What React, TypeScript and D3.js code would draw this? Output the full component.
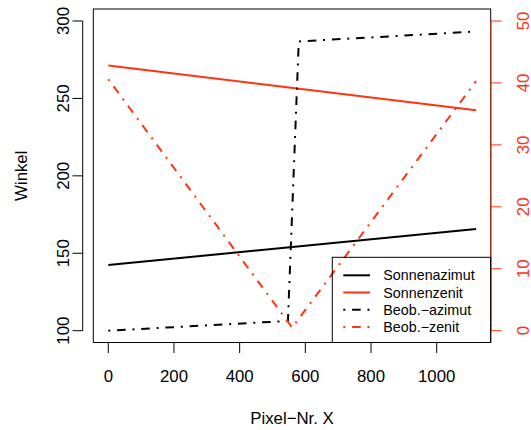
import React from "react";
import * as d3 from "d3";

const sunX = [0, 1120];
const sonnenazimut = [142.4, 165.7];
const sonnenzenit = [42.8, 35.6];
const beobAzX = [0, 547, 580, 1120];
const beobAzimut = [100, 106.3, 286.8, 293.2];
const beobZenX = [0, 560, 1120];
const beobZenit = [40.6, 0.5, 40.3];

const xTicks = [0, 200, 400, 600, 800, 1000];
const yLeftTicks = [100, 150, 200, 250, 300];
const yRightTicks = [0, 10, 20, 30, 40, 50];

const legendLabels = ["Sonnenazimut", "Sonnenzenit", "Beob.\u2212azimut", "Beob.\u2212zenit"];

const RED = "#ff3311";
const FONT = "'Liberation Sans', Arial, Helvetica, sans-serif";
const DASH = "2 6.8 8.6 6.8";

export default function App() {
  const W = 531, H = 430;
  const box = { left: 93.3, right: 490.7, top: 9, bottom: 342.5 };
  const x = d3.scaleLinear().domain([0, 1000]).range([108.3, 436.7]);
  const yL = d3.scaleLinear().domain([100, 300]).range([330.7, 21]);
  const yR = d3.scaleLinear().domain([0, 50]).range([330.7, 21]);

  const mk = (xs: number[], ys: number[], sy: d3.ScaleLinear<number, number>) =>
    d3.line<number>().x((_, i) => x(xs[i])).y((d) => sy(d))(ys) || "";

  const legendStyles = [
    { color: "#000", dash: undefined },
    { color: RED, dash: undefined },
    { color: "#000", dash: DASH },
    { color: RED, dash: DASH },
  ];
  const legY0 = 275.3, legDy = 17.2;

  return (
    <svg width={W} height={H} style={{ position: "absolute", left: 0, top: 0, background: "#fff" }} fontFamily={FONT}>
      {/* data lines */}
      <path d={mk(sunX, sonnenazimut, yL)} fill="none" stroke="#000" strokeWidth={2} />
      <path d={mk(sunX, sonnenzenit, yR)} fill="none" stroke={RED} strokeWidth={2} />
      <path d={mk(beobAzX, beobAzimut, yL)} fill="none" stroke="#000" strokeWidth={2} strokeDasharray={DASH} />
      <path d={mk(beobZenX, beobZenit, yR)} fill="none" stroke={RED} strokeWidth={2} strokeDasharray={DASH} />

      {/* box */}
      <rect x={box.left} y={box.top} width={box.right - box.left} height={box.bottom - box.top} fill="none" stroke="#000" strokeWidth={1} />

      {/* bottom axis */}
      {xTicks.map((t) => (
        <g key={"x" + t}>
          <line x1={x(t)} x2={x(t)} y1={box.bottom} y2={box.bottom + 10.5} stroke="#000" />
          <text x={x(t)} y={381.7} fontSize={16.8} textAnchor="middle">{t}</text>
        </g>
      ))}
      <text x={(box.left + box.right) / 2} y={424} fontSize={16.8} textAnchor="middle">Pixel{"\u2212"}Nr. X</text>

      {/* left axis */}
      <line x1={82.7} x2={82.7} y1={yL(300)} y2={yL(100)} stroke="#000" />
      {yLeftTicks.map((t) => (
        <g key={"l" + t}>
          <line x1={72.5} x2={82.7} y1={yL(t)} y2={yL(t)} stroke="#000" />
          <text transform={`translate(69.3,${yL(t)}) rotate(-90)`} fontSize={16.8} textAnchor="middle">{t}</text>
        </g>
      ))}
      <text transform={`translate(26.5,${(box.top + box.bottom) / 2}) rotate(-90)`} fontSize={16.8} textAnchor="middle">Winkel</text>

      {/* right axis */}
      <line x1={491} x2={491} y1={yR(50)} y2={yR(0)} stroke={RED} />
      {yRightTicks.map((t) => (
        <g key={"r" + t}>
          <line x1={491} x2={501.7} y1={yR(t)} y2={yR(t)} stroke={RED} />
          <text transform={`translate(528.5,${yR(t)}) rotate(-90)`} fontSize={16.8} textAnchor="middle" fill={RED}>{t}</text>
        </g>
      ))}

      {/* legend */}
      <rect x={332.3} y={257.3} width={box.right - 332.3} height={box.bottom - 257.3} fill="none" stroke="#000" strokeWidth={1} />
      {legendLabels.map((lab, i) => {
        const yy = legY0 + i * legDy;
        const s = legendStyles[i];
        return (
          <g key={lab}>
            <line x1={343.3} x2={370} y1={yy} y2={yy} stroke={s.color} strokeWidth={2} strokeDasharray={s.dash} />
            <text x={383.3} y={yy} dy="0.35em" fontSize={14.3}>{lab}</text>
          </g>
        );
      })}
    </svg>
  );
}
